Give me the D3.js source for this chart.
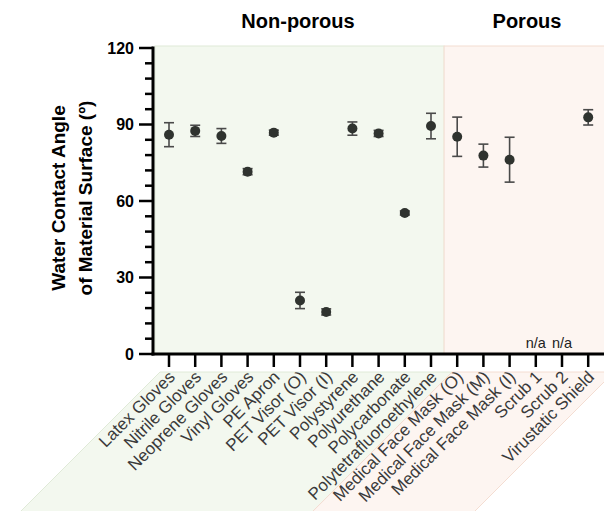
<!DOCTYPE html>
<meta charset="utf-8">
<style>
  body { margin: 0; padding: 0; background: white; }
  svg { display: block; font-family: "Liberation Sans", Arial, sans-serif; }
</style>
<script src="https://d3js.org/d3.v7.min.js"></script>
<svg id="vis"></svg>
<script>

var width = 604, height = 511;

// materials along the x axis
const materials = ["Latex Gloves", "Nitrile Gloves", "Neoprene Gloves", "Vinyl Gloves", "PE Apron",
  "PET Visor (O)", "PET Visor (I)", "Polystyrene", "Polyurethane", "Polycarbonate",
  "Polytetrafluoroethylene", "Medical Face Mask (O)", "Medical Face Mask (M)",
  "Medical Face Mask (I)", "Scrub 1", "Scrub 2", "Virustatic Shield"];
// mean contact angle (null = not measurable)
const angles = [86.0, 87.5, 85.5, 71.5, 86.8, 21.0, 16.5, 88.4, 86.5, 55.3, 89.4, 85.2, 77.8, 76.2, null, null, 92.8];
// +/- error
const errors = [4.7, 2.2, 2.9, 1.2, 1.0, 3.2, 1.2, 2.6, 1.2, 0.8, 5.0, 7.7, 4.5, 8.8, null, null, 3.0];
const groups = ["Non-porous", "Porous"];
const groupEnd = ["Polytetrafluoroethylene", "Virustatic Shield"];
const yTicks = [0, 30, 60, 90, 120];
const yTitle = ["Water Contact Angle", "of Material Surface (º)"];

var svg = d3.select("#vis").attr("width", width).attr("height", height);

var x = d3.scalePoint().domain(materials).range([169, 588.2]);
var y = d3.scaleLinear().domain([0, 120]).range([354, 48]);
var step = x.step();

var x0 = 153, splitX = x(groupEnd[0]) + step / 2, xEnd = 606;
var lblTop = 372, lblShift = 8, drop = height - lblTop + 2;

// panel backgrounds
var panels = [
  { x1: x0 + 2, x2: splitX, fill: "#f3f8ef", stroke: "#e0ead8" },
  { x1: splitX, x2: xEnd, fill: "#fdf5f1", stroke: "#f4ddd2" }
];
panels.forEach(function (p, i) {
  svg.append("rect")
    .attr("x", p.x1).attr("y", 46)
    .attr("width", p.x2 - p.x1).attr("height", y(0) - 46)
    .attr("fill", p.fill).attr("stroke", p.stroke).attr("stroke-width", 1);
  // slanted band behind the labels
  var a = i === 0 ? x0 + 7 : p.x1 + lblShift, b = p.x2 + lblShift;
  svg.append("path")
    .attr("d", "M" + a + "," + lblTop + "L" + b + "," + lblTop +
      "L" + (b - drop) + "," + (lblTop + drop) + "L" + (a - drop) + "," + (lblTop + drop) + "Z")
    .attr("fill", p.fill).attr("stroke", p.stroke).attr("stroke-width", 1);
});

// group titles
svg.selectAll("text.group")
  .data(groups)
  .enter().append("text")
  .attr("class", "group")
  .attr("x", function (d, i) { return i === 0 ? 298 : 527; })
  .attr("y", 28)
  .attr("text-anchor", "middle")
  .attr("font-size", "20px")
  .attr("font-weight", "bold")
  .text(function (d) { return d; });

// y axis
var yAxis = svg.append("g").attr("transform", "translate(" + x0 + ",0)");
yAxis.append("line").attr("x1", 0).attr("x2", 0).attr("y1", y(120) - 1.5).attr("y2", y(0) + 1.5)
  .attr("stroke", "#000").attr("stroke-width", 3);
yAxis.selectAll("line.tk")
  .data(d3.range(0, 121, 6))
  .enter().append("line")
  .attr("class", "tk")
  .attr("x1", function (d) { return d % 30 === 0 ? -14 : -8; })
  .attr("x2", 0)
  .attr("y1", function (d) { return y(d); })
  .attr("y2", function (d) { return y(d); })
  .attr("stroke", "#000").attr("stroke-width", 2.5);
yAxis.selectAll("text")
  .data(yTicks)
  .enter().append("text")
  .attr("x", -19)
  .attr("y", function (d) { return y(d); })
  .attr("dy", "0.36em")
  .attr("text-anchor", "end")
  .attr("font-size", "16px")
  .attr("font-weight", "bold")
  .text(function (d) { return d; });

// y title
svg.selectAll("text.ytitle")
  .data(yTitle)
  .enter().append("text")
  .attr("class", "ytitle")
  .attr("transform", function (d, i) { return "translate(" + (65 + i * 27) + ",198) rotate(-90)"; })
  .attr("text-anchor", "middle")
  .attr("font-size", "19px")
  .attr("font-weight", "bold")
  .text(function (d) { return d; });

// x axis
var xAxis = svg.append("g");
xAxis.append("line").attr("x1", x0 - 1.5).attr("x2", width).attr("y1", y(0)).attr("y2", y(0))
  .attr("stroke", "#000").attr("stroke-width", 3);
xAxis.selectAll("line.tk")
  .data(materials)
  .enter().append("line")
  .attr("class", "tk")
  .attr("x1", function (d) { return x(d); })
  .attr("x2", function (d) { return x(d); })
  .attr("y1", y(0)).attr("y2", y(0) + 13)
  .attr("stroke", "#000").attr("stroke-width", 2.5);
xAxis.selectAll("text")
  .data(materials)
  .enter().append("text")
  .attr("transform", function (d) { return "translate(" + (x(d) + 7) + "," + 378 + ") rotate(-45)"; })
  .attr("text-anchor", "end")
  .attr("font-size", "17px")
  .attr("fill", "#3a3a3a")
  .text(function (d) { return d; });

var rows = materials.map(function (m, i) { return { m: m, v: angles[i], e: errors[i] }; });

// n/a markers
svg.selectAll("text.na")
  .data(rows.filter(function (d) { return d.v === null; }))
  .enter().append("text")
  .attr("class", "na")
  .attr("x", function (d) { return x(d.m); })
  .attr("y", 348)
  .attr("text-anchor", "middle")
  .attr("font-size", "14.5px")
  .attr("fill", "#222")
  .text("n/a");

// error bars and means
var pts = svg.selectAll("g.pt")
  .data(rows.filter(function (d) { return d.v !== null; }))
  .enter().append("g").attr("class", "pt");
pts.append("line")
  .attr("x1", function (d) { return x(d.m); }).attr("x2", function (d) { return x(d.m); })
  .attr("y1", function (d) { return y(d.v + d.e); }).attr("y2", function (d) { return y(d.v - d.e); })
  .attr("stroke", "#4a4a4a").attr("stroke-width", 1.6);
[1, -1].forEach(function (s) {
  pts.append("line")
    .attr("x1", function (d) { return x(d.m) - 5; }).attr("x2", function (d) { return x(d.m) + 5; })
    .attr("y1", function (d) { return y(d.v + s * d.e); }).attr("y2", function (d) { return y(d.v + s * d.e); })
    .attr("stroke", "#4a4a4a").attr("stroke-width", 1.6);
});
pts.append("circle")
  .attr("cx", function (d) { return x(d.m); })
  .attr("cy", function (d) { return y(d.v); })
  .attr("r", 5)
  .attr("fill", "#2f332f");

</script>
